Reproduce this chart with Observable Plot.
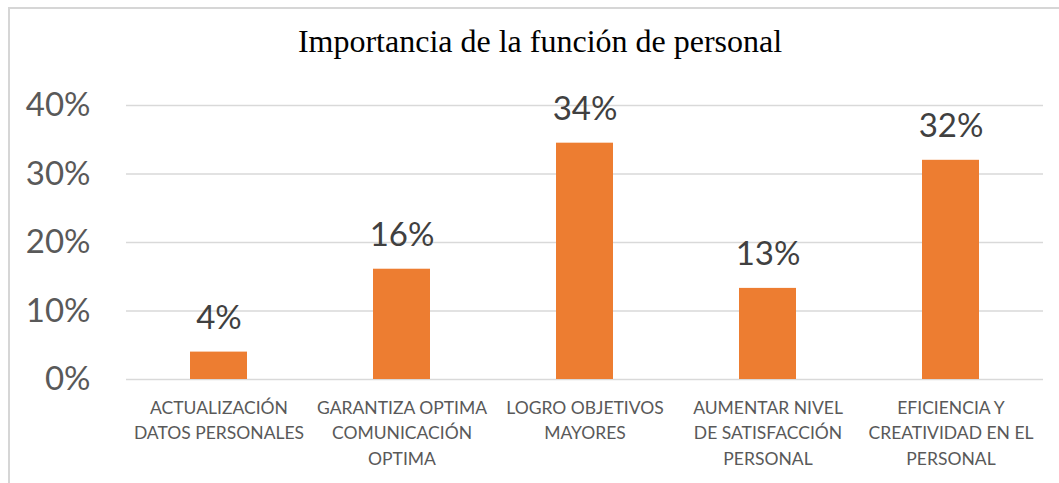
<!DOCTYPE html>
<html>
<head>
<meta charset="utf-8">
<script src="https://cdn.jsdelivr.net/npm/d3@7"></script>
<script src="https://cdn.jsdelivr.net/npm/@observablehq/plot@0.6"></script>
<style>
  html, body { margin: 0; padding: 0; background: #fff; }
  #wrap { position: relative; width: 1059px; height: 483px; overflow: hidden; background: #fff; }
  #frame { position: absolute; left: 8px; top: 7px; width: 1100px; height: 520px;
           border-top: 2px solid #d6d6d6; border-left: 2px solid #d6d6d6; }
  #title { position: absolute; left: 0; top: 23px; width: 1080px; text-align: center;
           font-family: "Liberation Serif", "Times New Roman", serif; font-size: 32px; color: #000; }
  #chart { position: absolute; left: 0; top: 80px; }
</style>
</head>
<body>
<div id="wrap">
  <div id="frame"></div>
  <div id="title">Importancia de la función de personal</div>
  <div id="chart"></div>
</div>
<script>
const categories = [
  "ACTUALIZACIÓN\nDATOS PERSONALES",
  "GARANTIZA OPTIMA\nCOMUNICACIÓN\nOPTIMA",
  "LOGRO OBJETIVOS\nMAYORES",
  "AUMENTAR NIVEL\nDE SATISFACCIÓN\nPERSONAL",
  "EFICIENCIA Y\nCREATIVIDAD EN EL\nPERSONAL"
];
const values = [4.0, 16.1, 34.5, 13.3, 32.0];
const valueLabels = ["4%", "16%", "34%", "13%", "32%"];
const yTicks = [0, 10, 20, 30, 40];

const data = categories.map((c, i) => ({cat: c, value: values[i], label: valueLabels[i]}));

const chart = Plot.plot({
  width: 1059,
  height: 403,
  marginTop: 25,
  marginBottom: 104,
  marginLeft: 126,
  marginRight: 16,
  style: { fontFamily: "Lato, 'Open Sans', sans-serif", background: "transparent" },
  x: { domain: categories, paddingInner: 0.69, paddingOuter: 0.345, label: null },
  y: { domain: [0, 40], label: null },
  marks: [
    Plot.ruleY(yTicks, { stroke: "#d9d9d9", strokeWidth: 1.5 }),
    Plot.barY(data, { x: "cat", y: "value", fill: "#ED7D31" }),
    Plot.text(data, { x: "cat", y: "value", text: "label", dy: -34,
      fontSize: 33, fill: "#404040" }),
    Plot.axisY(yTicks, { tickSize: 0, tickPadding: 36, fontSize: 33,
      tickFormat: d => d + "%", fill: "#595959", color: "#595959" }),
    Plot.axisX({ tickSize: 0, tickPadding: 16, fontSize: 17.5, lineHeight: 1.46,
      fill: "#595959", color: "#595959" })
  ]
});
document.getElementById("chart").appendChild(chart);
</script>
</body>
</html>
